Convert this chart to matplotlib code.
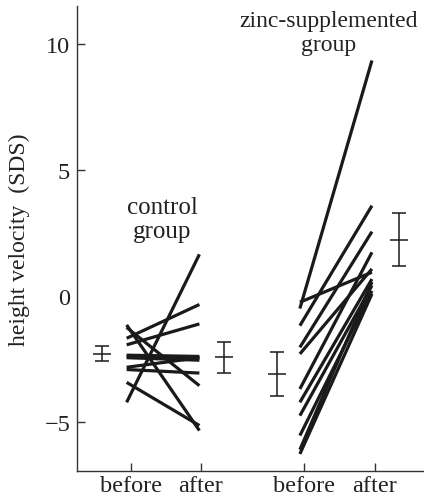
import numpy as np
import matplotlib
matplotlib.use("Agg")
import matplotlib.pyplot as plt

plt.rcParams['font.family'] = ['Liberation Serif', 'DejaVu Serif']

# x positions (before / after) for the two groups
x_ctrl = [1.0, 2.0]
x_zinc = [3.476, 4.486]
tick_labels = ["before", "after", "before", "after"]

# individual height velocity SDS
ctrl_before = [-1.15, -1.25, -1.68, -1.94, -2.35, -2.40, -2.45, -2.83, -2.92, -3.43, -4.22]
ctrl_after = [-5.34, -3.56, -0.34, -1.11, -2.40, -2.45, -2.55, -2.45, -3.06, -5.14, 1.65]

zinc_before = [-0.50, -0.25, -1.18, -2.04, -2.30, -3.69, -4.22, -4.75, -5.54, -6.10, -6.27]
zinc_after = [9.34, 0.94, 3.58, 2.55, 1.07, 1.73, 0.67, 0.41, 0.20, 0.55, 0.08]

# mean +- SD bars: (x, mean, low, high)
bar_x = [0.594, 2.337, 3.086, 4.83]
bar_mean = [-2.30, -2.42, -3.10, 2.22]
bar_low = [-2.60, -3.07, -3.97, 1.20]
bar_high = [-2.00, -1.81, -2.21, 3.28]

fig = plt.figure(figsize=(4.24, 5.02), dpi=100)
ax = fig.add_axes([0.182, 0.06, 0.818, 0.926])

off = -0.06
for b, a in zip(ctrl_before, ctrl_after):
    ax.plot([x_ctrl[0] + off, x_ctrl[1] - 0.02], [b, a], color='#1a1a1a', lw=2.3,
            solid_capstyle='butt')
for b, a in zip(zinc_before, zinc_after):
    ax.plot([x_zinc[0] + off, x_zinc[1] - 0.04], [b, a], color='#1a1a1a', lw=2.3,
            solid_capstyle='butt')

for x, m, lo, hi in zip(bar_x, bar_mean, bar_low, bar_high):
    ax.errorbar([x], [m], yerr=[[m - lo], [hi - m]], fmt='_', color='#1a1a1a',
                ms=12.5, mew=1.1, elinewidth=1.1, capsize=5.3, capthick=1.1)

ax.set_xlim(0.233, 5.19)
ax.set_ylim(-6.94, 11.5)
ax.set_xticks(x_ctrl + x_zinc)
ax.set_xticklabels(tick_labels)
ax.set_yticks([-5, 0, 5, 10])
ax.set_yticklabels(["\u22125", "0", "5", "10"])
ax.yaxis.get_major_ticks()[1].tick1line.set_visible(False)

ax.spines['top'].set_visible(False)
ax.spines['right'].set_visible(False)
for s in ['left', 'bottom']:
    ax.spines[s].set_linewidth(1.0)
    ax.spines[s].set_color('#333333')
ax.tick_params(axis='both', direction='in', length=6, width=1.0, color='#333333',
               labelsize=17.5, labelcolor='#222222')
ax.tick_params(axis='y', pad=5)
ax.tick_params(axis='x', pad=3)

ax.set_ylabel("height velocity\u2002(SDS)", fontsize=17, color='#222222', labelpad=10)

ax.text(1.45, 3.05, "control\ngroup", ha='center', va='center', fontsize=18,
        color='#222222', linespacing=1.12)
ax.text(3.83, 10.45, "zinc-supplemented\ngroup", ha='center', va='center', fontsize=17,
        color='#222222', linespacing=1.2)

fig.savefig("out.png", dpi=100)
